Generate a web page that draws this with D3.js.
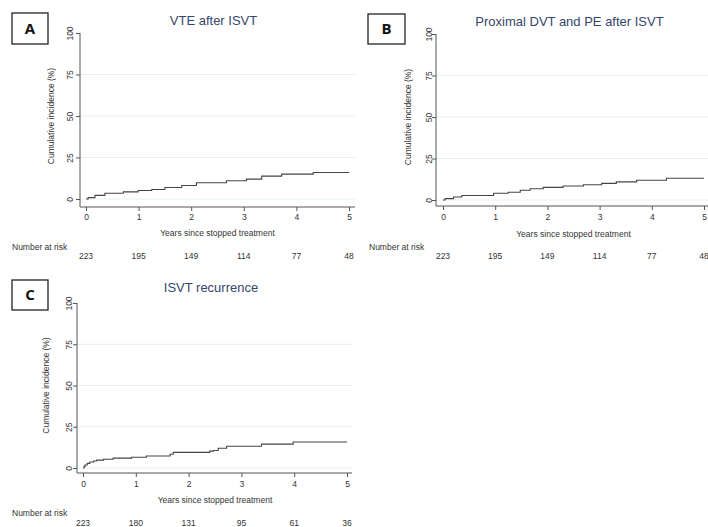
<!DOCTYPE html>
<html>
<head>
<meta charset="utf-8">
<script src="https://cdn.jsdelivr.net/npm/d3@7"></script>
<style>
  body { margin: 0; background: #fff; }
  svg { display: block; font-family: "Liberation Sans", Arial, sans-serif; }
</style>
</head>
<body>
<div id="chart"></div>
<script>
// shared axis ticks
const yearTicks = [0, 1, 2, 3, 4, 5];
const pctTicks = [0, 25, 50, 75, 100];
const gridTicks = [0, 25, 50, 75];

// A: VTE after ISVT (step times in years, cumulative incidence %)
const vteTimes = [0, 0.04, 0.17, 0.36, 0.71, 0.99, 1.25, 1.5, 1.82, 2.1, 2.67, 3.05, 3.34, 3.72, 4.32, 5];
const vteValues = [0, 0.8, 2.2, 3.5, 4.3, 5.1, 5.7, 6.9, 8.1, 9.8, 11.0, 12.0, 13.8, 15.0, 16.0, 16.0];
const vteAtRisk = [223, 195, 149, 114, 77, 48];

// B: Proximal DVT and PE after ISVT
const pdvtTimes = [0, 0.04, 0.2, 0.36, 0.97, 1.25, 1.48, 1.67, 1.92, 2.3, 2.69, 3.04, 3.32, 3.71, 4.28, 5];
const pdvtValues = [0, 0.8, 1.8, 2.7, 4.1, 4.7, 5.9, 6.8, 7.6, 8.4, 9.2, 10.0, 10.9, 11.9, 13.1, 13.1];
const pdvtAtRisk = [223, 195, 149, 114, 77, 48];

// C: ISVT recurrence
const recTimes = [0, 0.02, 0.04, 0.08, 0.13, 0.2, 0.26, 0.39, 0.57, 0.92, 1.2, 1.65, 1.71, 2.4, 2.47, 2.56, 2.72, 3.38, 3.98, 5];
const recValues = [0, 1.0, 1.8, 2.8, 3.6, 4.2, 4.8, 5.3, 6.0, 6.5, 7.3, 8.3, 9.5, 10.2, 10.6, 12.0, 13.2, 14.5, 15.8, 15.8];
const recAtRisk = [223, 180, 131, 95, 61, 36];

const panelLetters = ["A", "B", "C"];
const panelTitles = ["VTE after ISVT", "Proximal DVT and PE after ISVT", "ISVT recurrence"];

const W = 708, H = 527;
const svg = d3.select("#chart").append("svg").attr("width", W).attr("height", H);

const titleColor = "#35466b";
const axisColor = "#555";
const textColor = "#333";
const gridColor = "#e6f0f1";

// layout per panel (pixel frame of each small plot)
const frames = [
  { axisX: 80, xr: [86, 349], yr: [199, 33], axisY: 207, right: 355, box: [12, 13, 36, 31],
    titleY: 25, yTitleX: 54, yTickX: 70, xTickY: 220, xTitleY: 236, riskLabelX: 12, riskLabelY: 250, riskY: 259 },
  { axisX: 436, xr: [443, 704], yr: [200, 34], axisY: 206, right: 708, box: [368, 14, 37, 30],
    titleY: 26, yTitleX: 411, yTickX: 429, xTickY: 220, xTitleY: 237, riskLabelX: 369, riskLabelY: 250, riskY: 259 },
  { axisX: 77, xr: [83, 347], yr: [468, 303], axisY: 473, right: 352, box: [12, 280, 36, 30],
    titleY: 292, yTitleX: 49, yTickX: 69, xTickY: 487, xTitleY: 503, riskLabelX: 12, riskLabelY: 516, riskY: 526 }
];

const series = [
  { times: vteTimes, values: vteValues, atRisk: vteAtRisk },
  { times: pdvtTimes, values: pdvtValues, atRisk: pdvtAtRisk },
  { times: recTimes, values: recValues, atRisk: recAtRisk }
];

function drawPanel(i) {
  const f = frames[i], s = series[i];
  const g = svg.append("g");

  const x = d3.scaleLinear().domain([0, 5]).range(f.xr);
  const y = d3.scaleLinear().domain([0, 100]).range(f.yr);

  // gridlines
  g.selectAll(".grid")
    .data(gridTicks)
    .enter()
    .append("line")
    .attr("x1", f.axisX)
    .attr("x2", f.right)
    .attr("y1", d => y(d))
    .attr("y2", d => y(d))
    .style("stroke", gridColor)
    .style("stroke-width", 1);

  // y axis
  const yAxis = g.append("g")
    .attr("transform", `translate(${f.axisX},0)`)
    .call(d3.axisLeft(y).tickValues(pctTicks).tickSize(4).tickFormat(d3.format("d")));
  yAxis.select(".domain").remove();
  yAxis.append("line")
    .attr("y1", y(100)).attr("y2", f.axisY)
    .style("stroke", axisColor);
  yAxis.selectAll(".tick line").style("stroke", axisColor);
  yAxis.selectAll(".tick text")
    .attr("x", null).attr("dy", null)
    .attr("text-anchor", "middle")
    .attr("transform", `translate(${f.yTickX - f.axisX},0) rotate(-90)`)
    .attr("y", 3)
    .style("font-size", "8.5px")
    .style("fill", textColor);

  // x axis
  const xAxis = g.append("g")
    .attr("transform", `translate(0,${f.axisY})`)
    .call(d3.axisBottom(x).tickValues(yearTicks).tickSize(4).tickFormat(d3.format("d")));
  xAxis.select(".domain").remove();
  xAxis.append("line")
    .attr("x1", f.axisX).attr("x2", f.right)
    .style("stroke", axisColor);
  xAxis.selectAll(".tick line").style("stroke", axisColor);
  xAxis.selectAll(".tick text")
    .attr("dy", null)
    .attr("y", f.xTickY - f.axisY)
    .style("font-size", "8.5px")
    .style("fill", textColor);

  // step curve
  const pts = s.times.map((t, k) => [t, s.values[k]]);
  g.append("path")
    .datum(pts)
    .attr("d", d3.line().x(d => x(d[0])).y(d => y(d[1])).curve(d3.curveStepAfter))
    .style("fill", "none")
    .style("stroke", "#444")
    .style("stroke-width", 1.1);

  // titles
  g.append("text")
    .attr("x", (f.xr[0] + f.xr[1]) / 2 - 4)
    .attr("y", f.titleY)
    .attr("text-anchor", "middle")
    .style("font-size", "13px")
    .style("fill", titleColor)
    .text(panelTitles[i]);

  g.append("text")
    .attr("transform", `translate(${f.yTitleX},${(f.yr[0] + f.yr[1]) / 2}) rotate(-90)`)
    .attr("text-anchor", "middle")
    .style("font-size", "8.5px")
    .style("fill", textColor)
    .text("Cumulative incidence (%)");

  g.append("text")
    .attr("x", (f.xr[0] + f.xr[1]) / 2)
    .attr("y", f.xTitleY)
    .attr("text-anchor", "middle")
    .style("font-size", "8.5px")
    .style("fill", textColor)
    .text("Years since stopped treatment");

  // number at risk
  g.append("text")
    .attr("x", f.riskLabelX)
    .attr("y", f.riskLabelY)
    .style("font-size", "8.5px")
    .style("fill", textColor)
    .text("Number at risk");

  g.selectAll(".risk")
    .data(s.atRisk)
    .enter()
    .append("text")
    .attr("x", (d, k) => x(yearTicks[k]))
    .attr("y", f.riskY)
    .attr("text-anchor", "middle")
    .style("font-size", "8.5px")
    .style("fill", textColor)
    .text(d => d);

  // panel letter box
  const [bx, by, bw, bh] = f.box;
  g.append("rect")
    .attr("x", bx).attr("y", by).attr("width", bw).attr("height", bh)
    .style("fill", "#fff")
    .style("stroke", "#222")
    .style("stroke-width", 1.3);
  g.append("text")
    .attr("x", bx + bw / 2)
    .attr("y", by + bh / 2)
    .attr("dy", "0.36em")
    .attr("text-anchor", "middle")
    .style("font-family", "'Open Sans', 'Liberation Sans', sans-serif")
    .style("font-weight", "bold")
    .style("font-size", "15px")
    .style("fill", "#111")
    .text(panelLetters[i]);
}

[0, 1, 2].forEach(drawPanel);
</script>
</body>
</html>
